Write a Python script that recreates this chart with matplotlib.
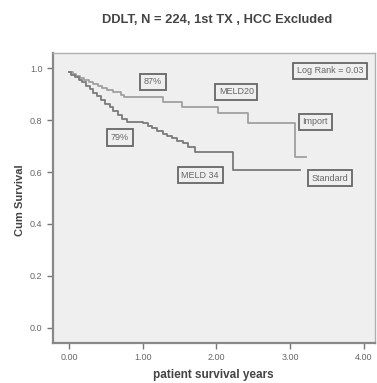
import matplotlib
matplotlib.use("Agg")
import matplotlib.pyplot as plt

# Kaplan-Meier step data (time in years, cumulative survival)
import_times = [0.00, 0.05, 0.10, 0.15, 0.20, 0.27, 0.33, 0.40, 0.45, 0.52, 0.60, 0.70, 0.74,
                1.28, 1.53, 2.02, 2.43, 3.07, 3.21]
import_surv = [0.985, 0.977, 0.970, 0.962, 0.955, 0.947, 0.939, 0.930, 0.922, 0.914, 0.906,
               0.898, 0.888, 0.870, 0.851, 0.826, 0.790, 0.657, 0.657]

standard_times = [0.00, 0.03, 0.08, 0.13, 0.18, 0.23, 0.28, 0.33, 0.38, 0.43, 0.49, 0.55, 0.60,
                  0.66, 0.72, 0.78, 1.00, 1.07, 1.13, 1.20, 1.27, 1.33, 1.40, 1.47, 1.55, 1.62,
                  1.71, 2.23, 3.13]
standard_surv = [0.985, 0.975, 0.965, 0.955, 0.945, 0.932, 0.920, 0.905, 0.893, 0.878, 0.863,
                 0.850, 0.836, 0.820, 0.805, 0.794, 0.787, 0.778, 0.768, 0.758, 0.748, 0.740,
                 0.730, 0.720, 0.712, 0.697, 0.678, 0.608, 0.608]

x_ticks = [0, 1, 2, 3, 4]
x_tick_labels = ["0.00", "1.00", "2.00", "3.00", "4.00"]
y_ticks = [0.0, 0.2, 0.4, 0.6, 0.8, 1.0]
y_tick_labels = ["0.0", "0.2", "0.4", "0.6", "0.8", "1.0"]

annotations = [
    ("87%", 1.14, 0.947),
    ("MELD20", 2.27, 0.909),
    ("Log Rank = 0.03", 3.54, 0.99),
    ("Import", 3.34, 0.793),
    ("79%", 0.69, 0.733),
    ("MELD 34", 1.78, 0.588),
    ("Standard", 3.54, 0.576),
]

plt.rcParams['font.family'] = ['Liberation Sans', 'DejaVu Sans']

fig = plt.figure(figsize=(3.77, 3.83), dpi=100)
ax = fig.add_axes([53 / 377, 1 - 343 / 383, (375 - 53) / 377, (343 - 53) / 383])
ax.set_facecolor('#efefef')

ax.step(import_times, import_surv, where='post', color='#a0a0a0', lw=1.3)
ax.step(standard_times, standard_surv, where='post', color='#7a7a7a', lw=1.3)

ax.set_xlim(-0.217, 4.15)
ax.set_ylim(-0.058, 1.058)
ax.set_xticks(x_ticks)
ax.set_xticklabels(x_tick_labels)
ax.set_yticks(y_ticks)
ax.set_yticklabels(y_tick_labels)
ax.tick_params(axis='both', labelsize=6.5, labelcolor='#666666', color='#777777',
               length=4, width=1.0, direction='out')

for side in ['left', 'bottom']:
    ax.spines[side].set_color('#888888')
    ax.spines[side].set_linewidth(1.6)
for side in ['top', 'right']:
    ax.spines[side].set_color('#b0b0b0')
    ax.spines[side].set_linewidth(1.0)

for text, x, y in annotations:
    ax.text(x, y, text, ha='center', va='center', fontsize=6.5, color='#666666',
            bbox=dict(boxstyle='square,pad=0.4', facecolor='#efefef', edgecolor='#666666', lw=1.3))

fig.text(0.575, 1 - 20 / 383, "DDLT, N = 224, 1st TX , HCC Excluded", ha='center', va='center',
         fontsize=9.3, fontweight='bold', color='#444444')
fig.text(20 / 377, 1 - 200 / 383, "Cum Survival", ha='center', va='center', rotation=90,
         fontsize=8, fontweight='bold', color='#444444')
fig.text(213 / 377, 1 - 375 / 383, "patient survival years", ha='center', va='center',
         fontsize=8.5, fontweight='bold', color='#444444')

fig.savefig("out.png", dpi=100)
